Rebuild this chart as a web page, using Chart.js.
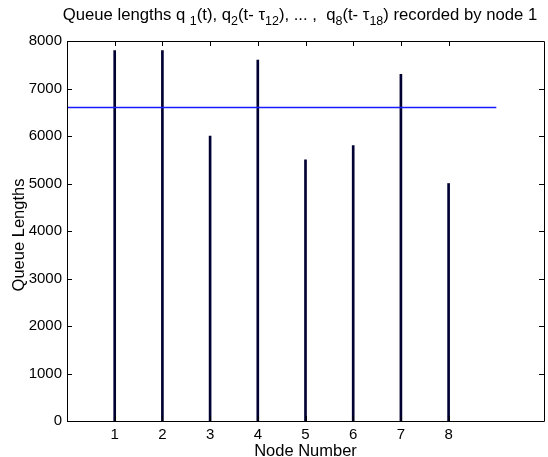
<!DOCTYPE html>
<html>
<head>
<meta charset="utf-8">
<script src="https://cdn.jsdelivr.net/npm/chart.js@4/dist/chart.umd.min.js"></script>
<style>
  html, body { margin: 0; padding: 0; background: #ffffff; }
  #wrap { width: 548px; height: 457px; position: relative; }
</style>
</head>
<body>
<div id="wrap"><canvas id="c"></canvas></div>
<script>
const nodes = [1, 2, 3, 4, 5, 6, 7, 8];
const queueLengths = [7800, 7800, 6000, 7600, 5500, 5800, 7300, 5000];
const refLineX = [0, 9];
const refLineY = [6600, 6600];
const xTickValues = [1, 2, 3, 4, 5, 6, 7, 8];
const yTickValues = [0, 1000, 2000, 3000, 4000, 5000, 6000, 7000, 8000];
const titleParts = [
  ["Queue lengths q ", false], ["1", true], ["(t), q", false], ["2", true],
  ["(t- \u03C4", false], ["12", true], ["), ... ,  q", false], ["8", true],
  ["(t- \u03C4", false], ["18", true], [") recorded by node 1", false]
];
const xTitle = "Node Number";
const yTitle = "Queue Lengths";

const FONT = "'Liberation Sans', Arial, Helvetica, sans-serif";

const framePlugin = {
  id: 'framePlugin',
  afterDatasetsDraw(chart) {
    const ctx = chart.ctx;
    const a = chart.chartArea;
    const xs = chart.scales.x, ys = chart.scales.y;
    ctx.save();
    ctx.strokeStyle = '#000000';
    ctx.lineWidth = 1;
    ctx.beginPath();
    ctx.rect(Math.round(a.left) + 0.5, Math.round(a.top) + 0.5,
             Math.round(a.right - a.left), Math.round(a.bottom - a.top));
    ctx.stroke();
    const tl = 5;
    ctx.beginPath();
    xTickValues.forEach(v => {
      const px = Math.round(xs.getPixelForValue(v)) + 0.5;
      ctx.moveTo(px, a.bottom); ctx.lineTo(px, a.bottom - tl);
      ctx.moveTo(px, a.top); ctx.lineTo(px, a.top + tl);
    });
    yTickValues.forEach(v => {
      const py = Math.round(ys.getPixelForValue(v)) + 0.5;
      ctx.moveTo(a.left, py); ctx.lineTo(a.left + tl, py);
      ctx.moveTo(a.right, py); ctx.lineTo(a.right - tl, py);
    });
    ctx.stroke();
    ctx.restore();
  },
  afterDraw(chart) {
    const ctx = chart.ctx;
    const a = chart.chartArea;
    ctx.save();
    ctx.fillStyle = '#000000';
    const big = "16.7px " + FONT, small = "12.5px " + FONT;
    let total = 0;
    titleParts.forEach(([t, sub]) => { ctx.font = sub ? small : big; total += ctx.measureText(t).width; });
    let x = 300 - total / 2;
    const base = 20;
    ctx.textBaseline = 'alphabetic';
    ctx.textAlign = 'left';
    titleParts.forEach(([t, sub]) => {
      ctx.font = sub ? small : big;
      ctx.fillText(t, x, sub ? base + 5 : base);
      x += ctx.measureText(t).width;
    });
    ctx.font = "16.5px " + FONT;
    ctx.textAlign = 'center';
    ctx.textBaseline = 'middle';
    ctx.fillText(xTitle, (a.left + a.right) / 2, 451);
    ctx.translate(19, (a.top + a.bottom) / 2 + 4);
    ctx.rotate(-Math.PI / 2);
    ctx.fillText(yTitle, 0, 0);
    ctx.restore();
  }
};

new Chart(document.getElementById('c'), {
  type: 'bar',
  data: {
    datasets: [
      {
        type: 'bar',
        data: nodes.map((n, i) => ({ x: n, y: queueLengths[i] })),
        backgroundColor: '#000033',
        borderWidth: 0,
        barThickness: 2,
        order: 2
      },
      {
        type: 'line',
        data: refLineX.map((x, i) => ({ x: x, y: refLineY[i] })),
        borderColor: '#1a1aff',
        borderWidth: 1.4,
        pointRadius: 0,
        fill: false,
        order: 1
      }
    ]
  },
  options: {
    responsive: true,
    maintainAspectRatio: false,
    animation: false,
    events: [],
    layout: { padding: { left: 0, top: 41, right: 4, bottom: 0 } },
    plugins: { legend: { display: false }, title: { display: false }, tooltip: { enabled: false } },
    scales: {
      x: {
        type: 'linear',
        min: 0, max: 10,
        offset: false,
        grid: { display: false, drawTicks: false, offset: false },
        border: { display: false },
        afterBuildTicks: s => { s.ticks = xTickValues.map(v => ({ value: v })); },
        afterFit: s => { s.height = 36; },
        ticks: { color: '#000', padding: 5, font: { size: 15, family: FONT }, maxRotation: 0, autoSkip: false,
                 callback: v => String(v) }
      },
      y: {
        min: 0, max: 8000,
        grid: { display: false, drawTicks: false },
        border: { display: false },
        afterBuildTicks: s => { s.ticks = yTickValues.map(v => ({ value: v })); },
        afterFit: s => { s.width = 67; },
        ticks: { color: '#000', padding: 5, font: { size: 15, family: FONT },
                 callback: v => String(v) }
      }
    }
  },
  plugins: [framePlugin]
});
</script>
</body>
</html>
